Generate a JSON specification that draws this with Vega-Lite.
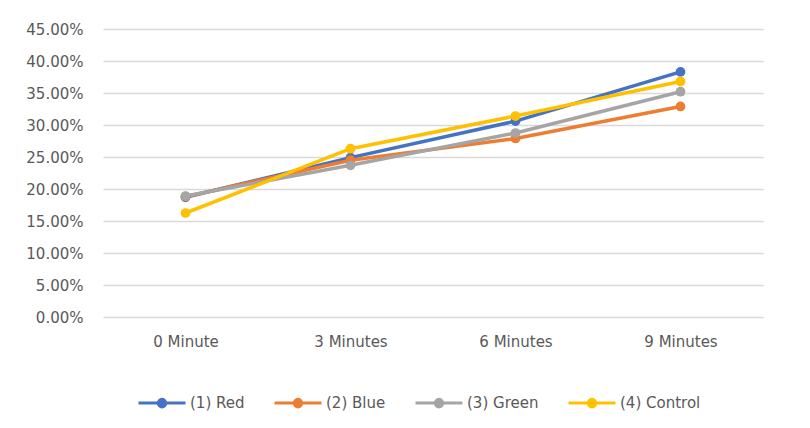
{
  "$schema": "https://vega.github.io/schema/vega-lite/v6.json",
  "autosize": {"type": "none"},
  "width": 660,
  "height": 288,
  "padding": {"left": 103, "top": 29, "right": 47, "bottom": 111},
  "background": "white",
  "data": {"values": [
    {"time": "0 Minute", "series": "(1) Red", "value": 0.187},
    {"time": "3 Minutes", "series": "(1) Red", "value": 0.249},
    {"time": "6 Minutes", "series": "(1) Red", "value": 0.306},
    {"time": "9 Minutes", "series": "(1) Red", "value": 0.383},
    {"time": "0 Minute", "series": "(2) Blue", "value": 0.188},
    {"time": "3 Minutes", "series": "(2) Blue", "value": 0.245},
    {"time": "6 Minutes", "series": "(2) Blue", "value": 0.279},
    {"time": "9 Minutes", "series": "(2) Blue", "value": 0.329},
    {"time": "0 Minute", "series": "(3) Green", "value": 0.189},
    {"time": "3 Minutes", "series": "(3) Green", "value": 0.237},
    {"time": "6 Minutes", "series": "(3) Green", "value": 0.2875},
    {"time": "9 Minutes", "series": "(3) Green", "value": 0.352},
    {"time": "0 Minute", "series": "(4) Control", "value": 0.1625},
    {"time": "3 Minutes", "series": "(4) Control", "value": 0.263},
    {"time": "6 Minutes", "series": "(4) Control", "value": 0.314},
    {"time": "9 Minutes", "series": "(4) Control", "value": 0.368}
  ]},
  "config": {
    "font": "DejaVu Sans",
    "view": {"stroke": null},
    "axis": {"labelFont": "DejaVu Sans", "labelFontSize": 15, "labelColor": "#595959", "title": null}
  },
  "mark": {"type": "line", "strokeWidth": 3.5, "point": {"filled": true, "size": 95}},
  "encoding": {
    "x": {
      "field": "time", "type": "ordinal",
      "sort": ["0 Minute", "3 Minutes", "6 Minutes", "9 Minutes"],
      "scale": {"padding": 0.5},
      "axis": {"labelAngle": 0, "domain": false, "ticks": false, "grid": false, "labelPadding": 17}
    },
    "y": {
      "field": "value", "type": "quantitative",
      "scale": {"domain": [0, 0.45], "nice": false},
      "axis": {"format": ".2%", "values": [0, 0.05, 0.1, 0.15, 0.2, 0.25, 0.3, 0.35, 0.4, 0.45], "domain": false, "ticks": false, "labelPadding": 20, "gridColor": "#D9D9D9", "gridWidth": 1.5}
    },
    "color": {
      "field": "series", "type": "nominal",
      "scale": {"domain": ["(1) Red", "(2) Blue", "(3) Green", "(4) Control"], "range": ["#4472C4", "#ED7D31", "#A5A5A5", "#FFC000"]},
      "legend": {
        "title": null, "orient": "none", "direction": "horizontal", "legendX": 34, "legendY": 349,
        "labelFont": "DejaVu Sans", "labelFontSize": 15, "labelColor": "#595959",
        "symbolType": "M-1,0L1,0M-0.16,0A0.16,0.16,0,1,0,0.16,0A0.16,0.16,0,1,0,-0.16,0Z",
        "symbolSize": 2209, "symbolStrokeWidth": 3, "labelOffset": 3, "columnPadding": 23,
        "encode": {"symbols": {"update": {"fill": {"scale": "color", "field": "value"}}}}
      }
    }
  }
}
